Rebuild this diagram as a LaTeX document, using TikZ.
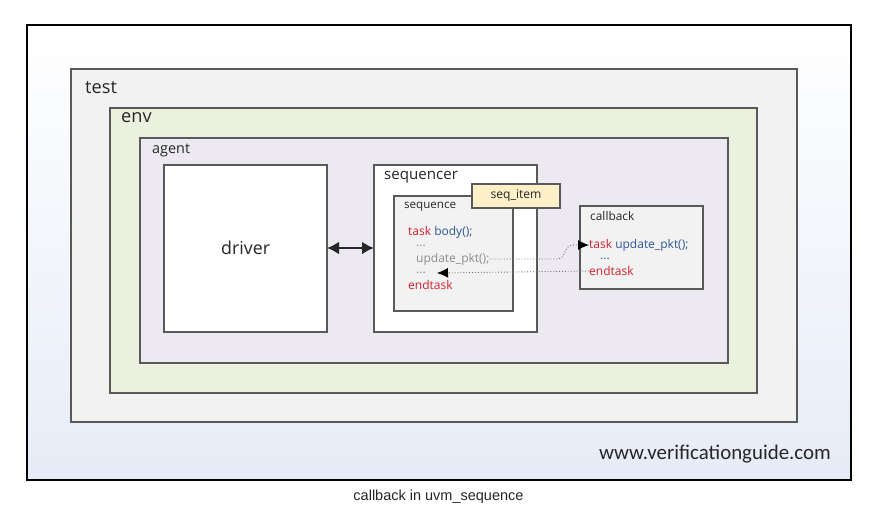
\documentclass[tikz,border=0pt]{standalone}
\usepackage{fontspec}
\setmainfont{Open Sans}
\newfontfamily\urlfont{Carlito}
\newfontfamily\capfont{Liberation Sans}
\usetikzlibrary{arrows.meta}
\definecolor{bgblue}{HTML}{E6ECF7}
\definecolor{testfill}{HTML}{F2F2F2}
\definecolor{envfill}{HTML}{EBF1DE}
\definecolor{agentfill}{HTML}{ECE9F0}
\definecolor{itemfill}{HTML}{FDEFC8}
\definecolor{seqfill}{HTML}{F2F2F2}
\definecolor{boxline}{HTML}{595959}
\definecolor{kwred}{HTML}{D0202E}
\definecolor{kwblue}{HTML}{2F5597}
\definecolor{txtgray}{HTML}{8C8C8C}
\definecolor{txtdark}{HTML}{262626}
\definecolor{dotgray}{HTML}{707070}
\tikzset{
  box/.style={draw=boxline, line width=1.2pt, rectangle, inner sep=0pt, outer sep=0pt, anchor=north west},
  lbl/.style={anchor=west, inner sep=0pt, text=txtdark},
  code/.style={anchor=west, inner sep=0pt, font=\fontsize{12}{14}\selectfont},
  conn/.style={dotted, line width=0.9pt, color=dotgray},
  tip/.style={-{Latex[length=11pt,width=10pt,fill=black,color=black]}},
}
\begin{document}
\begin{tikzpicture}[x=1pt,y=-1pt]
\useasboundingbox (0,0) rectangle (896,515);
\fill[white] (0,0) rectangle (896,515);
% outer frame
\node[box, draw=black, line width=2pt, minimum width=824, minimum height=455, top color=white, bottom color=bgblue] (outer) at (27,25) {};
\node[box, fill=testfill, minimum width=726, minimum height=353] (test) at (71,69) {};
\node[box, fill=envfill, minimum width=647, minimum height=285] (env) at (110,108) {};
\node[box, fill=agentfill, minimum width=588, minimum height=225] (agent) at (140,138) {};
\node[box, fill=white, minimum width=163, minimum height=167] (driver) at (164,165) {};
\node[box, fill=white, minimum width=163, minimum height=167] (sequencer) at (374,165) {};
\node[box, fill=seqfill, minimum width=119, minimum height=115] (sequence) at (394,196) {};
\node[box, fill=itemfill, minimum width=88, minimum height=24] (seqitem) at (472,184) {};
\node[box, fill=seqfill, minimum width=123, minimum height=83] (callback) at (580,206) {};
% labels
\node[lbl, font=\fontsize{18.2}{22}\selectfont] (tTest) at (85,88) {test};
\node[lbl, font=\fontsize{18.2}{22}\selectfont] (tEnv) at (121,118) {env};
\node[lbl, font=\fontsize{14.4}{17}\selectfont] (tAgent) at (152,150) {agent};
\node[lbl, font=\fontsize{17.8}{21}\selectfont] (tDriver) at (221,248) {driver};
\node[lbl, font=\fontsize{15.1}{18}\selectfont] (tSequencer) at (384,177) {sequencer};
\node[lbl, font=\fontsize{11.6}{14}\selectfont] (tSequence) at (404,207) {sequence};
\node[lbl, font=\fontsize{12.1}{14}\selectfont, anchor=center] (tItem) at (seqitem.center) {seq\_item};
\node[lbl, font=\fontsize{11.9}{14}\selectfont] (tCallback) at (590,216) {callback};
% sequence code
\node[code] (sTask) at (408,232) {\textcolor{kwred}{task} \textcolor{kwblue}{body();}};
\node[code, text=txtgray] (sDots1) at (416,246) {...};
\node[code, text=txtgray] (sUpd) at (416,259) {update\_pkt();};
\node[code, text=txtgray] (sDots2) at (416,273) {...};
\node[code, text=kwred] (sEnd) at (408,285) {endtask};
% callback code
\node[code] (cTask) at (589,245) {\textcolor{kwred}{task} \textcolor{kwblue}{update\_pkt();}};
\node[code, text=kwblue] (cDots) at (600,259) {...};
\node[code, text=kwred] (cEnd) at (589,271) {endtask};
% footer
\node[lbl, font=\urlfont\fontsize{20.9}{24}\selectfont] (url) at (599,454) {www.verificationguide.com};
\node[inner sep=0pt, font=\capfont\fontsize{14.5}{17}\selectfont, text=txtdark] (caption) at (438.5,497) {callback in uvm\_sequence};
% connectors
\draw[line width=2.4pt, draw=txtdark, {Latex[length=12pt,width=13pt]}-{Latex[length=12pt,width=13pt]}] (driver.east |- 0,248) -- (sequencer.west |- 0,248);
\coordinate (retTip) at (437,273);
\draw[conn, tip] (sUpd.east) -- (556,259) .. controls (568,259) and (562,245) .. (574,245) -- (cTask.west);
\draw[conn, tip] (cEnd.west) -- (retTip);
\end{tikzpicture}
\end{document}
